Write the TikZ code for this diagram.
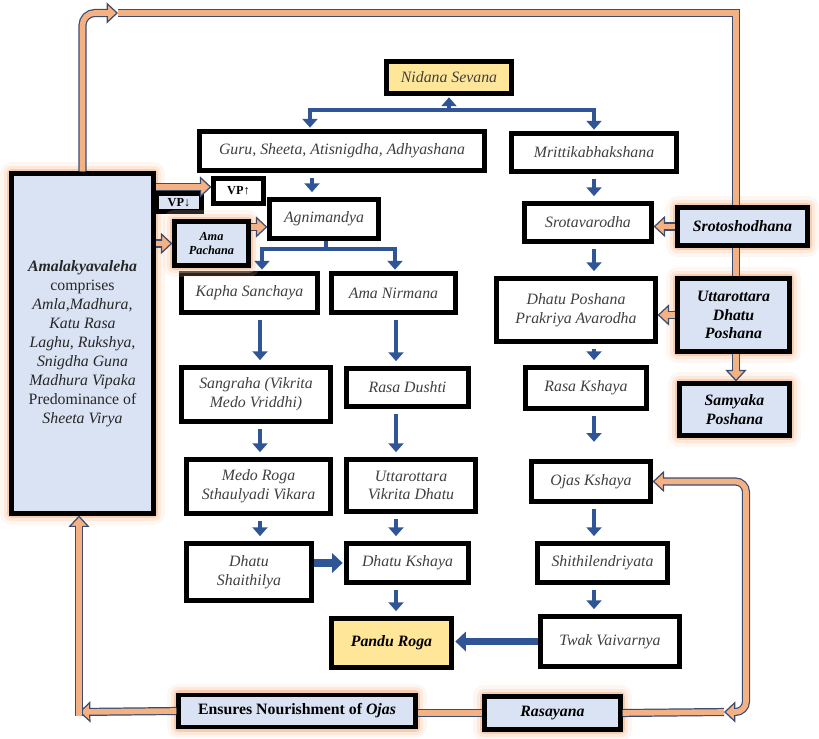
\documentclass[tikz,border=0pt]{standalone}
\usepackage{fontspec}
\setmainfont{Liberation Serif}
\usepackage{tikz}
\usetikzlibrary{positioning,arrows.meta,calc}
\definecolor{gold}{HTML}{FFE699}
\definecolor{pale}{HTML}{DAE3F3}
\definecolor{peach}{HTML}{F4B183}
\definecolor{glowc}{HTML}{F8CBAD}
\definecolor{slate}{HTML}{3C4C6E}
\definecolor{navy}{HTML}{2F5597}
\definecolor{ink}{HTML}{3F3F3F}
\newcommand{\flowfont}{\fontsize{9}{10.6}\selectfont}
\newcommand{\vpfont}{\fontsize{7}{8}\selectfont}

\tikzset{
  cell/.style={draw=black, line width=2.4pt, fill=white, align=center, inner sep=1pt,
    text=ink, font=\flowfont\itshape},
  goldcell/.style={cell, fill=gold},
  palecell/.style={cell, fill=pale, text=black, font=\flowfont\bfseries\itshape},
  glow/.style={preaction={draw=glowc, line width=13pt, opacity=0.18, line join=round},
    preaction={draw=glowc, line width=9pt, opacity=0.3, line join=round},
    preaction={draw=peach, line width=5.5pt, opacity=0.5, line join=round}},
  flow/.style={draw=navy, line width=2.8pt, -{Triangle[length=5pt,width=8.5pt]},
    shorten <=3pt, shorten >=3pt},
  split/.style={flow, line width=2.6pt, shorten <=0pt, shorten >=1pt},
  bigflow/.style={flow, line width=4.4pt, -{Triangle[length=6pt,width=11pt]}},
  pipe/.style={draw=slate, line width=4.6pt, postaction={draw=peach, line width=3.2pt}},
  pipearrow/.style={draw=slate, line width=4.6pt,
    -{Triangle[length=6.5pt,width=12pt,fill=peach,color=slate,line width=0.7pt]},
    postaction={draw=peach, line width=3.2pt, -, shorten >=3pt}},
  pipeboth/.style={draw=slate, line width=4.6pt,
    {Triangle[length=6.5pt,width=12pt,fill=peach,color=slate,line width=0.7pt]}-{Triangle[length=6.5pt,width=12pt,fill=peach,color=slate,line width=0.7pt]},
    postaction={draw=peach, line width=3.2pt, -, shorten >=3pt, shorten <=3pt}},
}

\begin{document}
\begin{tikzpicture}[x=0.02cm, y=-0.02cm]
  \useasboundingbox (0,0) rectangle (819,739);

  % causes
  \node[goldcell, minimum width=2.50cm, minimum height=0.64cm] (nidana) at (449,77.5) {Nidana Sevana};
  \node[cell, minimum width=5.70cm, minimum height=0.78cm] (guru) at (342,151) {Guru, Sheeta, Atisnigdha, Adhyashana};
  \node[cell, minimum width=3.30cm, minimum height=0.76cm] (mritt) at (594,152.5) {Mrittikabhakshana};

  % left chain
  \node[cell, minimum width=2.18cm, minimum height=0.78cm] (agni) at (324,219) {Agnimandya};
  \node[cell, minimum width=2.72cm, minimum height=0.78cm] (kapha) at (249.5,293) {Kapha Sanchaya};
  \node[cell, minimum width=2.48cm, minimum height=0.78cm] (amanir) at (393.5,293) {Ama Nirmana};
  \node[cell, minimum width=2.98cm, minimum height=1.08cm] (sangraha) at (256,394.5) {Sangraha (Vikrita\\Medo Vriddhi)};
  \node[cell, minimum width=2.44cm, minimum height=0.76cm] (rasadush) at (407.5,387.5) {Rasa Dushti};
  \node[cell, minimum width=2.88cm, minimum height=1.08cm] (medo) at (258.5,486.5) {Medo Roga\\Sthaulyadi Vikara};
  \node[cell, minimum width=2.58cm, minimum height=1.04cm] (uttvik) at (411,485.5) {Uttarottara\\Vikrita Dhatu};
  \node[cell, minimum width=2.50cm, minimum height=1.14cm] (shaith) at (249,572) {Dhatu\\Shaithilya};
  \node[cell, minimum width=2.44cm, minimum height=0.78cm] (dhatuksh) at (407.5,563) {Dhatu Kshaya};
  \node[goldcell, text=black, font=\flowfont\bfseries\itshape, minimum width=2.40cm, minimum height=0.98cm] (pandu) at (391.5,643) {Pandu Roga};

  % right chain
  \node[cell, minimum width=2.54cm, minimum height=0.76cm] (srotav) at (588,222.5) {Srotavarodha};
  \node[cell, minimum width=3.18cm, minimum height=1.26cm] (dpavar) at (576,310) {Dhatu Poshana\\Prakriya Avarodha};
  \node[cell, minimum width=2.42cm, minimum height=0.82cm] (rasaksh) at (586,388) {Rasa Kshaya};
  \node[cell, minimum width=2.38cm, minimum height=0.80cm] (ojas) at (591,481.5) {Ojas Kshaya};
  \node[cell, minimum width=2.60cm, minimum height=0.78cm] (shithil) at (602.5,563) {Shithilendriyata};
  \node[cell, minimum width=2.78cm, minimum height=1.00cm] (twak) at (610,641.5) {Twak Vaivarnya};

  % remedies
  \node[palecell, glow, text=black!85, font=\fontsize{9}{10.8}\selectfont, minimum width=2.84cm, minimum height=6.80cm] (amalak) at (82.5,343.5)
    {\textbf{\textit{Amalakyavaleha}}\\comprises\\\textit{Amla,Madhura,}\\\textit{Katu Rasa}\\\textit{Laghu, Rukshya,}\\\textit{Snigdha Guna}\\\textit{Madhura Vipaka}\\Predominance of\\\textit{Sheeta Virya}};
  \node[palecell, font=\vpfont\bfseries, minimum width=0.90cm, minimum height=0.36cm] (vpdown) at (179,202.5) {VP↓};
  \node[cell, text=black, font=\vpfont\bfseries, minimum width=1.00cm, minimum height=0.50cm] (vpup) at (238.5,191) {VP↑};
  \node[palecell, glow, font=\vpfont\bfseries\itshape, minimum width=1.48cm, minimum height=0.88cm] (amapach) at (211.5,243.5) {Ama\\Pachana};
  \node[palecell, glow, minimum width=2.60cm, minimum height=0.76cm] (srotosh) at (742.5,226.5) {Srotoshodhana};
  \node[palecell, glow, minimum width=2.24cm, minimum height=1.46cm] (uttdp) at (733.5,315) {Uttarottara\\Dhatu\\Poshana};
  \node[palecell, glow, minimum width=2.20cm, minimum height=1.04cm] (samyaka) at (734.5,409.5) {Samyaka\\Poshana};
  \node[palecell, glow, font=\flowfont\bfseries, minimum width=4.74cm, minimum height=0.64cm] (ensures) at (297,711) {Ensures Nourishment of \textit{Ojas}};
  \node[palecell, glow, minimum width=2.72cm, minimum height=0.66cm] (rasayana) at (552.5,713) {Rasayana};

  % blue flow
  \coordinate (nj) at (449,110);
  \coordinate (nl) at (310,110);
  \draw[split] (nj) -- (nidana.south);
  \draw[split] (nj) -| (nl |- guru.north);
  \draw[split] (nj) -| (mritt.north);
  \coordinate (ga) at (312,0);
  \draw[flow] (guru.south -| ga) -- (agni.north -| ga);
  \coordinate (aj) at (326,249);
  \coordinate (al) at (262,249);
  \coordinate (ar) at (395,249);
  \draw[split] (agni.south -| aj) -- (aj) -| (al |- kapha.north);
  \draw[split] (aj) -| (ar |- amanir.north);

  \coordinate (cl) at (260,0);
  \coordinate (cm) at (396,0);
  \coordinate (cr) at (594,0);
  \draw[flow] (kapha.south -| cl) -- (sangraha.north -| cl);
  \draw[flow] (sangraha.south -| cl) -- (medo.north -| cl);
  \draw[flow] (medo.south -| cl) -- (shaith.north -| cl);
  \draw[flow] (amanir.south -| cm) -- (rasadush.north -| cm);
  \draw[flow] (rasadush.south -| cm) -- (uttvik.north -| cm);
  \draw[flow] (uttvik.south -| cm) -- (dhatuksh.north -| cm);
  \draw[flow] (dhatuksh.south -| cm) -- (pandu.north -| cm);
  \draw[flow] (mritt.south -| cr) -- (srotav.north -| cr);
  \draw[flow] (srotav.south -| cr) -- (dpavar.north -| cr);
  \draw[flow] (dpavar.south -| cr) -- (rasaksh.north -| cr);
  \draw[flow, shorten >=10pt] (rasaksh.south -| cr) -- (ojas.north -| cr);
  \draw[flow] (ojas.south -| cr) -- (shithil.north -| cr);
  \draw[flow] (shithil.south -| cr) -- (twak.north -| cr);
  \draw[bigflow, shorten <=0pt, shorten >=1pt] (shaith.east |- dhatuksh) -- (dhatuksh.west);
  \draw[bigflow, shorten <=0pt, shorten >=1pt] (twak.west) -- (twak.west -| pandu.east);

  % orange pipes
  \coordinate (vpa) at (0,187);
  \coordinate (apa) at (0,227);
  \draw[pipearrow] (amalak.east |- vpa) -- (vpup.west |- vpa);
  \draw[pipearrow] (amapach.east |- apa) -- (agni.west |- apa);
  \draw[pipearrow] (amalak.east |- amapach) -- (amapach.west);
  \draw[pipearrow] (srotosh.west) -- (srotosh.west -| srotav.east);
  \draw[pipearrow] (uttdp.west) -- (uttdp.west -| dpavar.east);

  \coordinate (tl) at (118,13);
  \coordinate (tr) at (736,13);
  \draw[pipearrow, rounded corners=7pt] (amalak.north) |- (tl);
  \draw[pipe] (tl) -- (tr) -- (tr |- srotosh.north);
  \draw[pipe] (tr |- srotosh.south) -- (tr |- uttdp.north);
  \draw[pipearrow] (tr |- uttdp.south) -- (tr |- samyaka.north);

  \coordinate (bl) at (79,712);
  \coordinate (blb) at (79,716);
  \coordinate (bm) at (724,712);
  \coordinate (br) at (746,712);
  \draw[pipearrow] (ensures.west) -- (bl);
  \draw[pipearrow] (blb) -- (bl |- amalak.south);
  \draw[pipe] (rasayana.west) -- (rasayana.west -| ensures.east);
  \draw[pipe] (rasayana.east) -- (bm);
  \draw[pipeboth, rounded corners=6pt] (bm) -- (br) |- (ojas.east);
\end{tikzpicture}
\end{document}
